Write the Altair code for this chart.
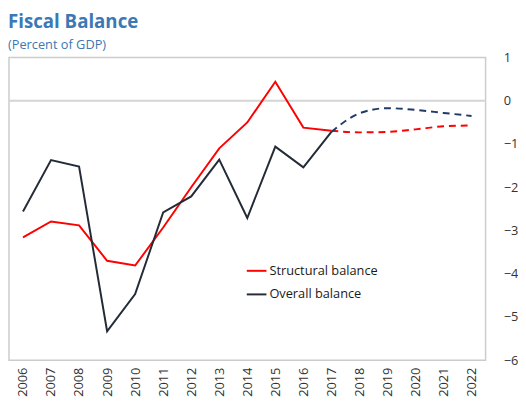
import altair as alt
import pandas as pd

years = [str(y) for y in range(2006, 2023)]
structural = [-3.16, -2.79, -2.88, -3.70, -3.81, -2.93, -2.00, -1.10, -0.50, 0.44,
              -0.62, -0.69, -0.73, -0.72, -0.66, -0.59, -0.57]
overall = [-2.56, -1.37, -1.52, -5.33, -4.47, -2.58, -2.21, -1.36, -2.71, -1.06,
           -1.54, -0.72, -0.29, -0.17, -0.21, -0.28, -0.35]
last_actual = "2017"
series_names = ["Structural balance", "Overall balance"]
y_ticks = [1, 0, -1, -2, -3, -4, -5, -6]

rows = []
for name, vals in zip(series_names, [structural, overall]):
    for yr, v in zip(years, vals):
        rows.append({"year": yr, "value": v, "series": name})
df = pd.DataFrame(rows)
solid = df[df["year"] <= last_actual]
dashed = df[df["year"] >= last_actual]

FONT = "Open Sans"
RED = "#ff0000"
DARK = "#232b37"
NAVY = "#1f3a68"
BLUE = "#3b78b5"

x_enc = alt.X("year:O", sort=years, scale=alt.Scale(domain=years),
              axis=alt.Axis(title=None, labelAngle=270, ticks=False, domain=False,
                            labelPadding=7, labelFontSize=13, labelColor="#333333",
                            labelFont=FONT))
y_enc = alt.Y("value:Q", scale=alt.Scale(domain=[-6, 1], nice=False, zero=False),
              axis=alt.Axis(title=None, orient="right", values=y_ticks, format="d",
                            ticks=False, domain=False, grid=False, labelPadding=18,
                            labelFontSize=13, labelColor="#333333", labelFont=FONT))

color_enc = alt.Color("series:N", scale=alt.Scale(domain=series_names, range=[RED, DARK]),
                      legend=alt.Legend(title=None, orient="none", legendX=241, legendY=206,
                                        symbolType="stroke", symbolSize=400,
                                        symbolStrokeWidth=2, labelFontSize=13,
                                        labelFont=FONT, labelColor="#1a1a1a",
                                        labelOffset=2, rowPadding=6))

zero = alt.Chart(pd.DataFrame({"value": [0]})).mark_rule(color="#d4d4d4", strokeWidth=2).encode(
    y=alt.Y("value:Q", scale=alt.Scale(domain=[-6, 1], nice=False, zero=False))
)

base_solid = alt.Chart(solid).mark_line(strokeWidth=2)
red_solid = base_solid.transform_filter(alt.datum.series == series_names[0]).encode(
    x=x_enc, y=y_enc, color=color_enc)
dark_solid = base_solid.transform_filter(alt.datum.series == series_names[1]).encode(
    x=x_enc, y=y_enc, color=color_enc)

base_dash = alt.Chart(dashed).mark_line(strokeWidth=2, strokeDash=[7, 5], interpolate="monotone")
red_dash = base_dash.transform_filter(alt.datum.series == series_names[0]).encode(
    x=x_enc, y=y_enc, color=alt.value(RED))
navy_dash = base_dash.transform_filter(alt.datum.series == series_names[1]).encode(
    x=x_enc, y=y_enc, color=alt.value(NAVY))

chart = alt.layer(zero, red_solid, dark_solid, red_dash, navy_dash).properties(
    width=485, height=308,
    padding={"top": 2, "left": 0, "right": 0, "bottom": 0},
    title=alt.TitleParams(text="Fiscal Balance", subtitle="(Percent of GDP)",
                          anchor="start", font=FONT, fontSize=19, fontWeight="bold",
                          color=BLUE, subtitleFont=FONT, subtitleFontSize=13,
                          subtitleColor=BLUE, subtitlePadding=7, offset=0),
).configure_view(stroke="#cccccc", strokeWidth=1.5)

chart.save("out.html", embed_options={"renderer": "svg", "actions": False})
